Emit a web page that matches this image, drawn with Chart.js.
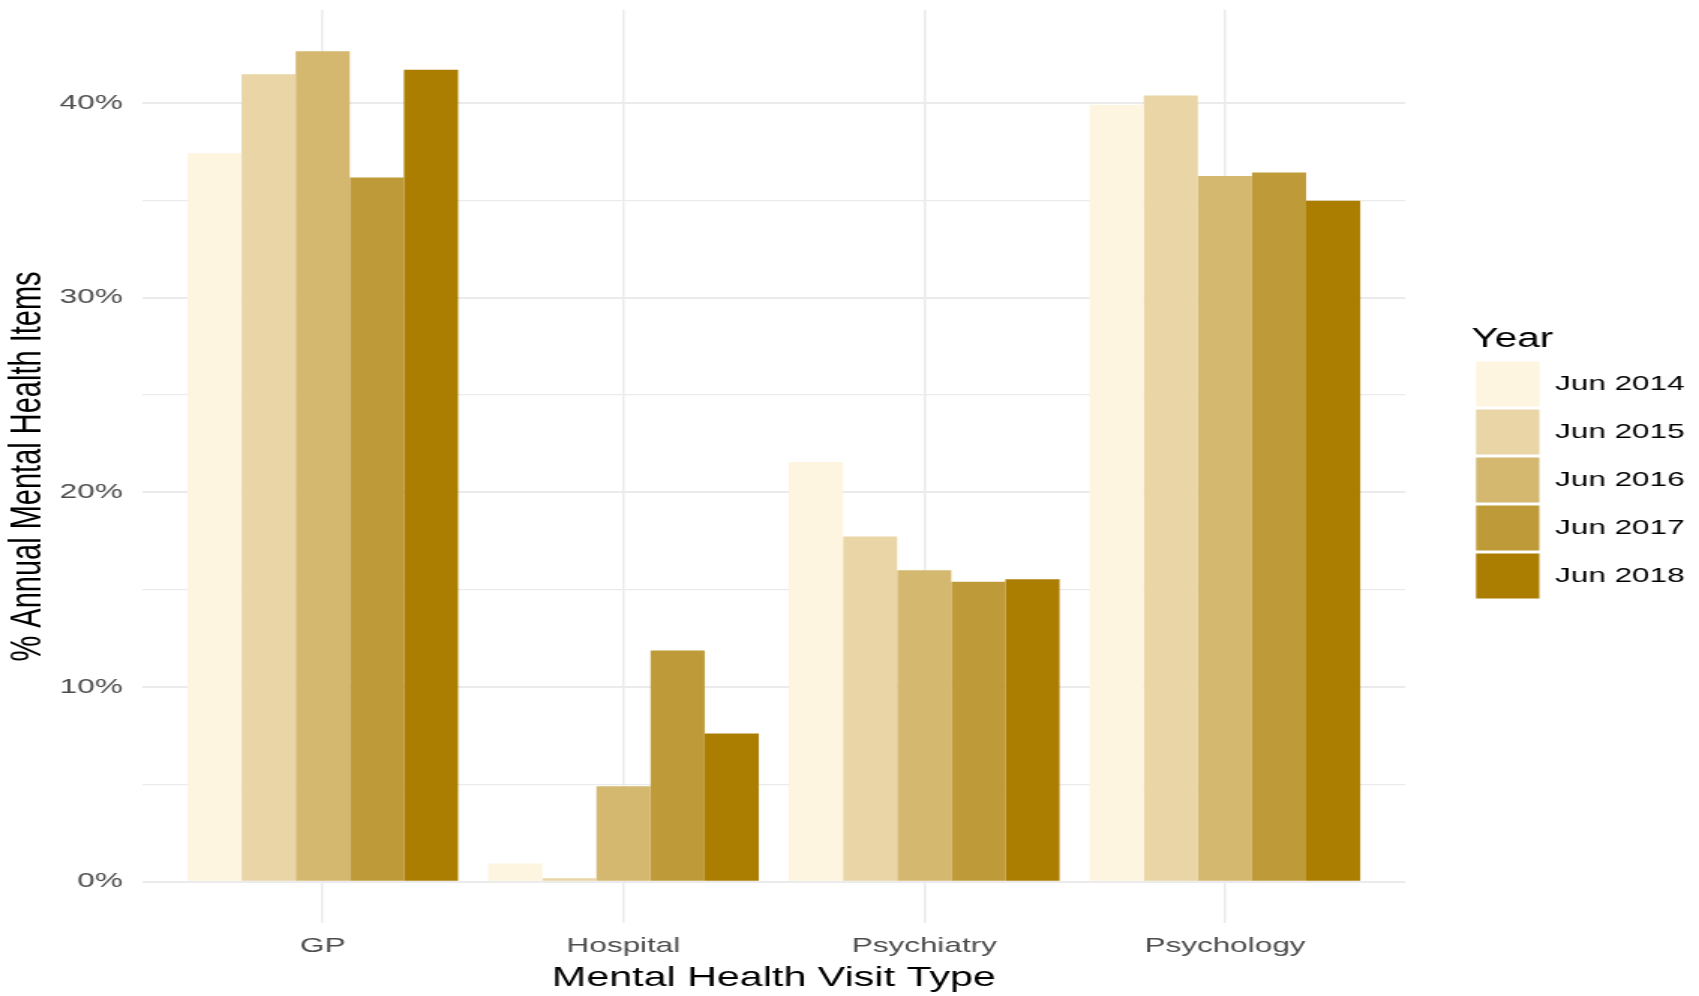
<!DOCTYPE html>
<html>
<head>
<meta charset="utf-8">
<script src="https://cdn.jsdelivr.net/npm/chart.js@4/dist/chart.umd.min.js"></script>
<style>
  html, body { margin: 0; padding: 0; background: #ffffff; overflow: hidden; }
</style>
</head>
<body>
<canvas id="c" width="1133" height="996" style="display:block;width:1699px;height:996px;"></canvas>
<script>
// ---- data ----
const categories = ['GP', 'Hospital', 'Psychiatry', 'Psychology'];
const years = ['Jun 2014', 'Jun 2015', 'Jun 2016', 'Jun 2017', 'Jun 2018'];
const jun2014 = [37.42, 0.93, 21.55, 39.90];
const jun2015 = [41.47, 0.18, 17.73, 40.38];
const jun2016 = [42.65, 4.90, 16.00, 36.25];
const jun2017 = [36.17, 11.87, 15.40, 36.42];
const jun2018 = [41.70, 7.61, 15.54, 34.97];
const yTicks = [0, 5, 10, 15, 20, 25, 30, 35, 40];
const yLabelTicks = [0, 10, 20, 30, 40];

const seriesList = [jun2014, jun2015, jun2016, jun2017, jun2018];
const colors = ['#FDF5DF', '#E9D5A5', '#D4B870', '#BF9A38', '#AB7D00'];

// ggplot-style 5% expansion of the y range
const allVals = seriesList.flat();
const yMaxVal = Math.max(...allVals);
const yExp = (yMaxVal - 0) * 0.05;

const FONT = "'Liberation Sans', Arial, Helvetica, sans-serif";
Chart.defaults.font.family = FONT;

const legendShift = {
  id: 'legendShift',
  afterLayout(chart) {
    const lg = chart.legend;
    if (!lg) return;
    const target = 981.3;
    const d = target - lg.left;
    lg.left += d; lg.right += d;
    lg.top -= 2.8; lg.bottom -= 2.8;
  }
};

function noPad(scale) {
  scale.paddingTop = 0; scale.paddingBottom = 0;
  scale.paddingLeft = 0; scale.paddingRight = 0;
}

new Chart(document.getElementById('c'), {
  type: 'bar',
  data: {
    datasets: seriesList.map((s, i) => ({
      label: years[i],
      data: s.map((v, j) => ({ x: j + 1, y: v })),
      backgroundColor: colors[i],
      borderWidth: 0,
      categoryPercentage: 0.9,
      barPercentage: 1.0
    }))
  },
  options: {
    responsive: false,
    devicePixelRatio: 1,
    animation: false,
    layout: { padding: { left: 0, right: 43.7, top: 9.8, bottom: 0 } },
    plugins: {
      tooltip: { enabled: false },
      legend: {
        position: 'right',
        fullSize: false,
        align: 'center',
        labels: {
          boxWidth: 42.2,
          boxHeight: 45,
          padding: 3,
          color: '#000000',
          font: { size: 21, family: FONT }
        },
        title: {
          display: true,
          text: 'Year',
          position: 'start',
          color: '#000000',
          padding: 0,
          font: { size: 27, family: FONT }
        }
      }
    },
    scales: {
      x: {
        type: 'linear',
        min: 0.4,
        max: 4.6,
        offset: false,
        afterBuildTicks: (scale) => { scale.ticks = categories.map((c, i) => ({ value: i + 1 })); },
        afterFit: (scale) => { scale.height = 72.8; noPad(scale); },
        ticks: {
          callback: (v) => categories[Math.round(v) - 1] || '',
          color: '#4D4D4D',
          font: { size: 21, family: FONT },
          padding: 10.8,
          maxRotation: 0,
          autoSkip: false
        },
        grid: { color: '#EBEBEB', lineWidth: 1.5, drawTicks: false, offset: false },
        border: { display: false },
        title: {
          display: true,
          text: 'Mental Health Visit Type',
          color: '#000000',
          font: { size: 27.5, family: FONT },
          padding: { top: 0, bottom: 1 }
        }
      },
      y: {
        min: -yExp,
        max: yMaxVal + yExp,
        afterBuildTicks: (scale) => { scale.ticks = yTicks.map(v => ({ value: v })); },
        afterFit: (scale) => { scale.width = 94.9; noPad(scale); },
        ticks: {
          callback: (v) => yLabelTicks.includes(v) ? v + '%' : '',
          color: '#4D4D4D',
          font: { size: 21, family: FONT },
          padding: 13
        },
        grid: {
          color: '#EBEBEB',
          lineWidth: (ctx) => (ctx.tick && yLabelTicks.includes(ctx.tick.value)) ? 2 : 1.2,
          drawTicks: false
        },
        border: { display: false },
        title: {
          display: true,
          text: '% Annual Mental Health Items',
          color: '#000000',
          font: { size: 29, family: FONT },
          padding: { top: 2, bottom: 0 }
        }
      }
    }
  },
  plugins: [legendShift]
});
</script>
</body>
</html>
